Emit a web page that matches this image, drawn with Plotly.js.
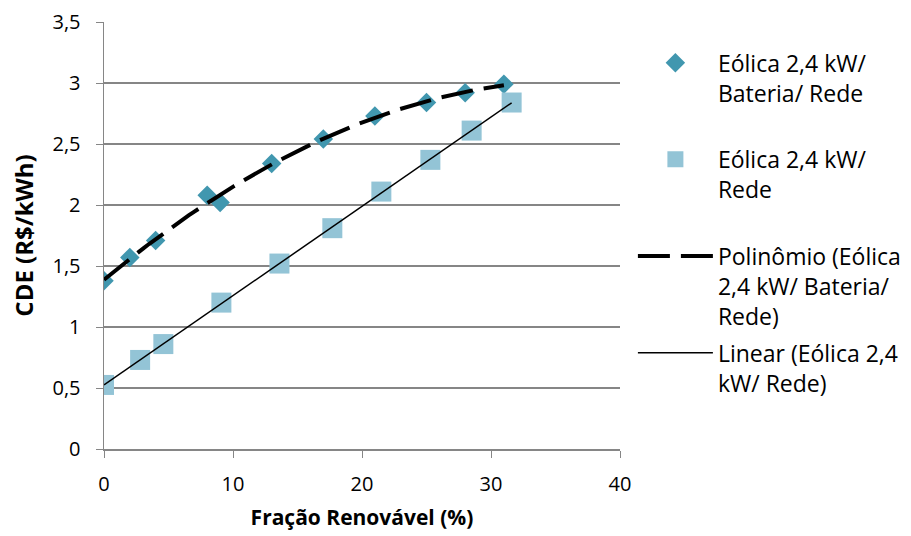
<!DOCTYPE html>
<html>
<head>
<meta charset="utf-8">
<script src="https://cdn.plot.ly/plotly-3.0.1.min.js"></script>
<style>html,body{margin:0;padding:0;background:#fff;}#chart{width:911px;height:536px;}</style>
</head>
<body>
<div id="chart"></div>
<script>
// Data
const bateriaX = [0, 2, 4, 8, 9, 13, 17, 21, 25, 28, 31];
const bateriaY = [1.38, 1.57, 1.71, 2.08, 2.02, 2.34, 2.54, 2.73, 2.84, 2.92, 2.99];
const redeX = [0, 2.8, 4.6, 9.1, 13.6, 17.7, 21.5, 25.3, 28.5, 31.6];
const redeY = [0.525, 0.73, 0.86, 1.2, 1.52, 1.81, 2.11, 2.37, 2.61, 2.84];
const legendNames = [
  "Eólica 2,4 kW/<br>Bateria/ Rede<br> ",
  "Eólica 2,4 kW/<br>Rede<br> ",
  "Polinômio (Eólica<br>2,4 kW/ Bateria/<br>Rede)",
  "Linear (Eólica 2,4<br>kW/ Rede)"
];

// Least-squares polynomial fit (trendlines, as the spreadsheet computes them)
function polyfit(xs, ys, deg) {
  const n = deg + 1;
  const A = [];
  for (let i = 0; i < n; i++) {
    A.push(new Array(n + 1).fill(0));
    for (let j = 0; j < n; j++) {
      A[i][j] = xs.reduce((s, x) => s + Math.pow(x, i + j), 0);
    }
    A[i][n] = xs.reduce((s, x, k) => s + Math.pow(x, i) * ys[k], 0);
  }
  for (let c = 0; c < n; c++) {
    let p = c;
    for (let r = c + 1; r < n; r++) if (Math.abs(A[r][c]) > Math.abs(A[p][c])) p = r;
    [A[c], A[p]] = [A[p], A[c]];
    for (let r = 0; r < n; r++) {
      if (r === c) continue;
      const f = A[r][c] / A[c][c];
      for (let k = c; k <= n; k++) A[r][k] -= f * A[c][k];
    }
  }
  return A.map((row, i) => row[n] / row[i]);
}
function evalPoly(c, x) { return c.reduce((s, a, i) => s + a * Math.pow(x, i), 0); }
function curve(xs, ys, deg, steps) {
  const c = polyfit(xs, ys, deg);
  const x0 = Math.min(...xs), x1 = Math.max(...xs);
  const cx = [], cy = [];
  for (let i = 0; i <= steps; i++) {
    const x = x0 + (x1 - x0) * i / steps;
    cx.push(x); cy.push(evalPoly(c, x));
  }
  return {x: cx, y: cy};
}
const polyC = curve(bateriaX, bateriaY, 2, 80);
const linC = curve(redeX, redeY, 1, 2);

const fontFam = "'Open Sans', 'Noto Sans', sans-serif";
const traces = [
  {x: bateriaX, y: bateriaY, type: 'scatter', mode: 'markers', name: legendNames[0],
   marker: {symbol: 'diamond', size: 15, color: '#4197AF'}, legendgroup: 'a'},
  {x: redeX, y: redeY, type: 'scatter', mode: 'markers', name: legendNames[1],
   marker: {symbol: 'square', size: 20, color: '#93C4D6'}, legendgroup: 'b'},
  {x: polyC.x, y: polyC.y, type: 'scatter', mode: 'lines', name: legendNames[2],
   line: {color: '#000', width: 4, dash: '32px,11px'}, legendgroup: 'c'},
  {x: linC.x, y: linC.y, type: 'scatter', mode: 'lines', name: legendNames[3],
   line: {color: '#000', width: 1.5}, legendgroup: 'd'}
];

const layout = {
  width: 911, height: 536,
  margin: {l: 104, r: 291, t: 22, b: 87, autoexpand: false},
  paper_bgcolor: '#fff', plot_bgcolor: '#fff',
  separators: ',.',
  font: {family: fontFam, size: 20, color: '#000'},
  showlegend: true,
  legend: {x: 1.025, xanchor: 'left', y: 0.955, yanchor: 'top', valign: 'top',
           font: {size: 23, family: fontFam, color: '#000'}, tracegroupgap: 4,
           itemwidth: 75, bgcolor: 'rgba(0,0,0,0)'},
  xaxis: {range: [0, 40], dtick: 10, tick0: 0, showgrid: false, zeroline: false,
          showline: true, linecolor: '#868686', linewidth: 1.5,
          ticks: 'outside', ticklen: 7, tickcolor: '#868686', ticklabelstandoff: 9,
          tickfont: {size: 20, family: fontFam},
          title: {text: '<b>Fração Renovável (%)</b>', font: {size: 21, family: fontFam}, standoff: 15}},
  yaxis: {range: [0, 3.5], dtick: 0.5, tick0: 0, showgrid: true, gridcolor: '#868686', gridwidth: 1.2,
          zeroline: false, showline: true, linecolor: '#868686', linewidth: 1.5,
          ticks: 'outside', ticklen: 7, tickcolor: '#868686', ticklabelstandoff: 11,
          tickfont: {size: 20, family: fontFam}, tickformat: '.1~f',
          title: {text: '<b>CDE (R$/kWh)</b>', font: {size: 24, family: fontFam}, standoff: 12}}
};

Plotly.newPlot('chart', traces, layout, {displayModeBar: false, staticPlot: true});
</script>
</body>
</html>
